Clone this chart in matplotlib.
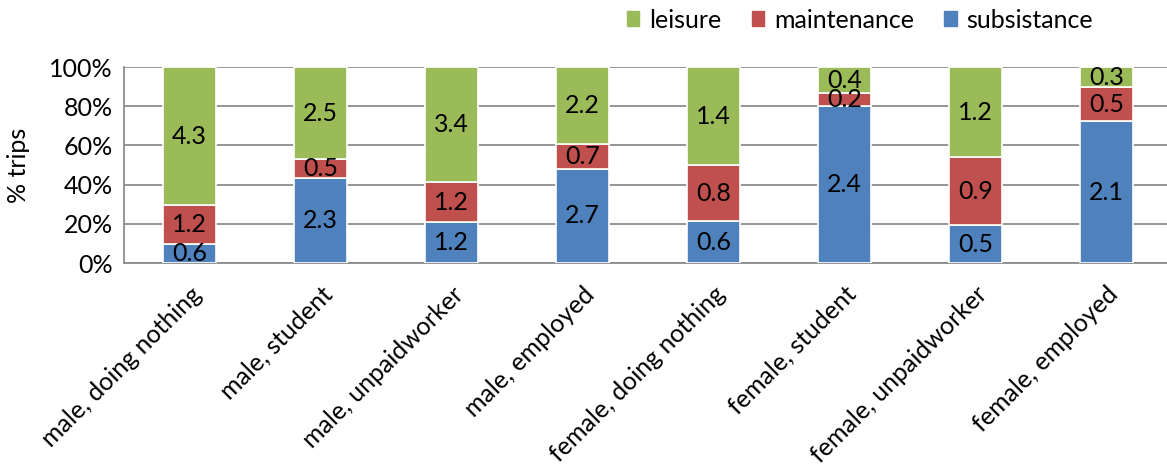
import numpy as np
import matplotlib.pyplot as plt
from matplotlib.patches import Patch

plt.rcParams['font.family'] = ['Lato', 'DejaVu Sans']

groups = ['male, doing nothing', 'male, student', 'male, unpaidworker', 'male, employed',
          'female, doing nothing', 'female, student', 'female, unpaidworker', 'female, employed']
subsistance = [0.6, 2.3, 1.2, 2.7, 0.6, 2.4, 0.5, 2.1]
maintenance = [1.2, 0.5, 1.2, 0.7, 0.8, 0.2, 0.9, 0.5]
leisure = [4.3, 2.5, 3.4, 2.2, 1.4, 0.4, 1.2, 0.3]

c_sub = '#4F81BD'
c_main = '#C0504D'
c_leis = '#9BBB59'

sub = np.array(subsistance)
mai = np.array(maintenance)
lei = np.array(leisure)
total = sub + mai + lei

# share of trips per purpose, stacked to 100%
p_sub = sub / total * 100
p_mai = mai / total * 100
p_lei = lei / total * 100

fig = plt.figure(figsize=(11.67, 4.69), dpi=100)
ax = fig.add_axes([124/1167, 1 - 263/469, 1043/1167, 196/469])

x = np.arange(len(groups))
w = 0.4
kw = dict(width=w, edgecolor='white', linewidth=1.2, zorder=3)
ax.bar(x, p_sub, color=c_sub, **kw)
ax.bar(x, p_mai, bottom=p_sub, color=c_main, **kw)
ax.bar(x, p_lei, bottom=p_sub + p_mai, color=c_leis, **kw)

fs = 18
for i in range(len(groups)):
    ax.text(x[i], p_sub[i] / 2, f'{sub[i]:.1f}', ha='center', va='center', fontsize=fs, zorder=4)
    ax.text(x[i], p_sub[i] + p_mai[i] / 2, f'{mai[i]:.1f}', ha='center', va='center', fontsize=fs, zorder=4)
    ax.text(x[i], p_sub[i] + p_mai[i] + p_lei[i] / 2, f'{lei[i]:.1f}', ha='center', va='center', fontsize=fs, zorder=4)

ax.set_xlim(-0.5, -0.5 + 1043/131)
ax.set_ylim(0, 100)
ax.set_yticks(np.arange(0, 101, 20))
ax.set_yticklabels([f'{v}%' for v in range(0, 101, 20)], fontsize=fs)
ax.yaxis.grid(True, color='#8C8C8C', linewidth=1.3, zorder=0)
ax.tick_params(axis='y', length=0, pad=8)
ax.tick_params(axis='x', length=0, pad=14)

ax.set_xticks(x)
ax.set_xticklabels(groups, rotation=45, ha='right', rotation_mode='anchor', fontsize=fs)

for s in ['top', 'right']:
    ax.spines[s].set_visible(False)
for s in ['left', 'bottom']:
    ax.spines[s].set_color('#8C8C8C')
    ax.spines[s].set_linewidth(1.3)

ax.set_ylabel('% trips', fontsize=fs)
ax.yaxis.set_label_coords(-94/1043, 0.5)

handles = [Patch(color=c_leis), Patch(color=c_main), Patch(color=c_sub)]
fig.legend(handles, ['leisure', 'maintenance', 'subsistance'], loc='center',
           bbox_to_anchor=(860/1167, 1 - 20/469), ncol=3, frameon=False, fontsize=fs,
           handlelength=0.5, handleheight=0.5, handletextpad=0.4, columnspacing=1.2)

fig.savefig('out.png', dpi=100)
